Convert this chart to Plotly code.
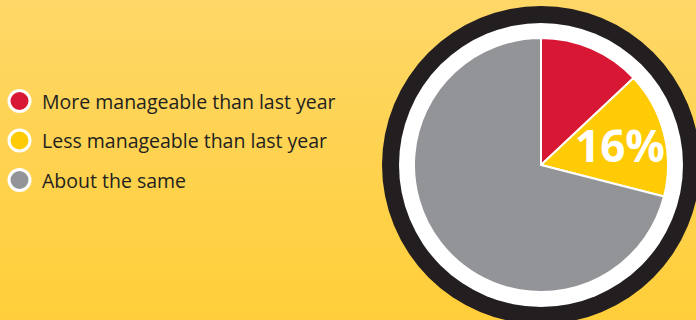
import math
import urllib.parse
import plotly.graph_objects as go

# ---- data ----
categories = ["More manageable than last year", "Less manageable than last year", "About the same"]
values = [13, 16, 71]
colors = ["#D81734", "#FFCB05", "#939498"]
highlight_index = 1

W, H = 696, 320
CX, CY = 541, 165          # pie centre (px from top-left)
R_PIE, R_WHITE, R_BLACK = 127, 142, 159

fig = go.Figure()

# pie
fig.add_trace(go.Pie(
    labels=categories, values=values, sort=False, direction="clockwise", rotation=0,
    marker=dict(colors=colors, line=dict(color="white", width=2)),
    textinfo="none", hoverinfo="label+percent", showlegend=False,
    domain=dict(x=[(CX - R_PIE) / W, (CX + R_PIE) / W],
                y=[(H - CY - R_PIE) / H, (H - CY + R_PIE) / H]),
))

# legend drawn as markers + text
row_y0, row_gap = 101, 39.5
leg_y = [H - (row_y0 + i * row_gap) for i in range(len(categories))]
fig.add_trace(go.Scatter(
    x=[19.5] * len(categories), y=leg_y, mode="markers",
    marker=dict(size=21, color=colors, line=dict(color="white", width=3)),
    hoverinfo="skip", showlegend=False,
))
annotations = []
for cat, yy in zip(categories, leg_y):
    annotations.append(dict(x=40, y=yy, xref="x", yref="y", text=cat, showarrow=False,
                            xanchor="left", yanchor="middle",
                            font=dict(family="Open Sans", size=19.5, color="#231F20")))

# highlighted percentage label placed from data
total = sum(values)
start = sum(values[:highlight_index])
mid = 2 * math.pi * (start + values[highlight_index] / 2) / total
lx = CX + 0.64 * R_PIE * math.sin(mid)
ly = CY - 0.64 * R_PIE * math.cos(mid)
annotations.append(dict(x=lx, y=H - ly, xref="x", yref="y",
                        text=f"<b>{values[highlight_index]}%</b>",
                        showarrow=False, xanchor="center", yanchor="middle",
                        font=dict(family="Open Sans", size=44, color="white")))

# background gradient
svg = ('<svg xmlns="http://www.w3.org/2000/svg" width="696" height="320" preserveAspectRatio="none">'
       '<defs><linearGradient id="g" x1="0" y1="0" x2="0" y2="1">'
       '<stop offset="0" stop-color="#FED767"/><stop offset="1" stop-color="#FFCE39"/>'
       '</linearGradient></defs><rect width="696" height="320" fill="url(#g)"/></svg>')
bg_src = "data:image/svg+xml;charset=utf-8," + urllib.parse.quote(svg)

shapes = []
for r, c in [(R_BLACK, "#231F20"), (R_WHITE, "white")]:
    shapes.append(dict(type="circle", xref="paper", yref="paper", layer="below",
                       xsizemode="pixel", ysizemode="pixel",
                       xanchor=CX / W, yanchor=(H - CY) / H,
                       x0=-r, x1=r, y0=-r, y1=r, fillcolor=c, line=dict(width=0)))

fig.update_layout(
    width=W, height=H, margin=dict(l=0, r=0, t=0, b=0),
    paper_bgcolor="#FED450", plot_bgcolor="rgba(0,0,0,0)",
    xaxis=dict(range=[0, W], visible=False, fixedrange=True, domain=[0, 1]),
    yaxis=dict(range=[0, H], visible=False, fixedrange=True, domain=[0, 1]),
    images=[dict(source=bg_src, xref="paper", yref="paper", x=0, y=1, sizex=1, sizey=1,
                 xanchor="left", yanchor="top", sizing="stretch", layer="below")],
    shapes=shapes, annotations=annotations, showlegend=False,
)

fig.write_html("out.html")
